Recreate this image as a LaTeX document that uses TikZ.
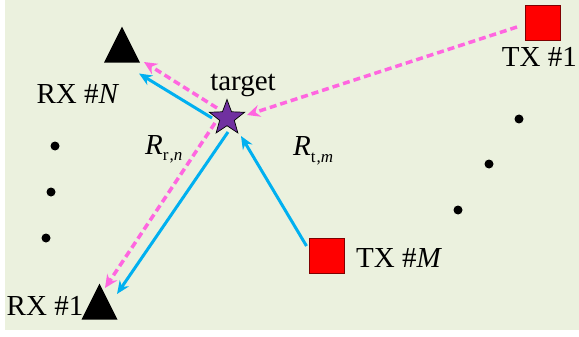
\documentclass[tikz,border=0pt]{standalone}
\usepackage{fontspec}
\setmainfont{Liberation Serif}
\usetikzlibrary{shapes.geometric,arrows.meta,positioning}
\definecolor{sfondo}{HTML}{EBF1DE}
\definecolor{azzurro}{HTML}{00B0F0}
\definecolor{rosa}{HTML}{FF66E0}
\definecolor{viola}{HTML}{7030A0}
\definecolor{rosso}{HTML}{FF0000}
\definecolor{bordo}{HTML}{7F0000}

\tikzset{
  rx/.style={isosceles triangle, shape border rotate=90, isosceles triangle stretches,
    minimum width=36pt, minimum height=36pt, inner sep=0pt, outer sep=0pt, fill=black},
  tx/.style={rectangle, minimum size=35pt, inner sep=0pt, fill=rosso, draw=bordo, line width=0.8pt},
  bersaglio/.style={star, star points=5, star point ratio=2.4, minimum size=37pt,
    inner sep=0pt, fill=viola, draw=black, line width=0.7pt},
  punto/.style={circle, fill=black, minimum size=9pt, inner sep=0pt},
  lbl/.style={font=\fontsize{29}{31}\selectfont, inner sep=0pt, anchor=base},
  diretto/.style={azzurro, line width=3pt, -{Stealth[length=13pt,width=11pt]}},
  riflesso/.style={rosa, line width=3.5pt, dash pattern=on 7pt off 4pt,
    -{Stealth[length=13pt,width=12pt]}}
}

\begin{document}
\begin{tikzpicture}[x=1pt, y=-1pt]
  \useasboundingbox (0,0) rectangle (579,337);
  \fill[sfondo] (5,0) rectangle (579,330);

  % Ricevitori, trasmettitori, bersaglio
  \node[rx] (rxN) at (122,51.5) {};
  \node[rx] (rx1) at (99.5,308.5) {};
  \node[tx] (tx1) at (543,22.5) {};
  \node[tx] (txM) at (326.5,256) {};
  \node[bersaglio] (tgt) at (227,118) {};

  % Puntini
  \node[punto] (pl1) at (55,146) {};
  \node[punto] (pl2) at (51,192) {};
  \node[punto] (pl3) at (46,238) {};
  \node[punto] (pr1) at (519,119) {};
  \node[punto] (pr2) at (489,164) {};
  \node[punto] (pr3) at (458,210) {};

  % Percorsi diretti
  \draw[diretto] ([shift={(-20,-10)}]txM.center) -- ([shift={(14,18)}]tgt.center);
  \draw[diretto] ([shift={(-15,0)}]tgt.center) -- ([shift={(17,22)}]rxN.center);
  \draw[diretto] ([shift={(1,14)}]tgt.center) -- ([shift={(17.5,-14.5)}]rx1.center);

  % Percorsi riflessi
  \draw[riflesso] ([shift={(-26,4.5)}]tx1.center) -- ([shift={(20,-3)}]tgt.center);
  \draw[riflesso] ([shift={(-10,-10)}]tgt.center) -- ([shift={(22,10.5)}]rxN.center);
  \draw[riflesso] ([shift={(-12,5)}]tgt.center) -- ([shift={(5.5,-20.5)}]rx1.center);

  % Etichette
  \node[lbl] (lrxN) at (78,104) {RX \#\textit{N}};
  \node[lbl] (lrx1) at (45,315) {RX \#1};
  \node[lbl, anchor=base east] (ltx1) at (577,67) {TX \#1};
  \node[lbl, anchor=base west] (ltxM) at (356,267) {TX \#\textit{M}};
  \node[lbl] (ltgt) at (243,91) {target};
  \node[lbl, anchor=base west] (lRr) at (145,154)
    {\textit{R}\raisebox{-0.22em}{\fontsize{17}{17}\selectfont r\kern1pt,\textit{n}}};
  \node[lbl, anchor=base west] (lRt) at (293,156)
    {\textit{R}\raisebox{-0.22em}{\fontsize{17}{17}\selectfont t\kern1pt,\textit{m}}};
\end{tikzpicture}
\end{document}
